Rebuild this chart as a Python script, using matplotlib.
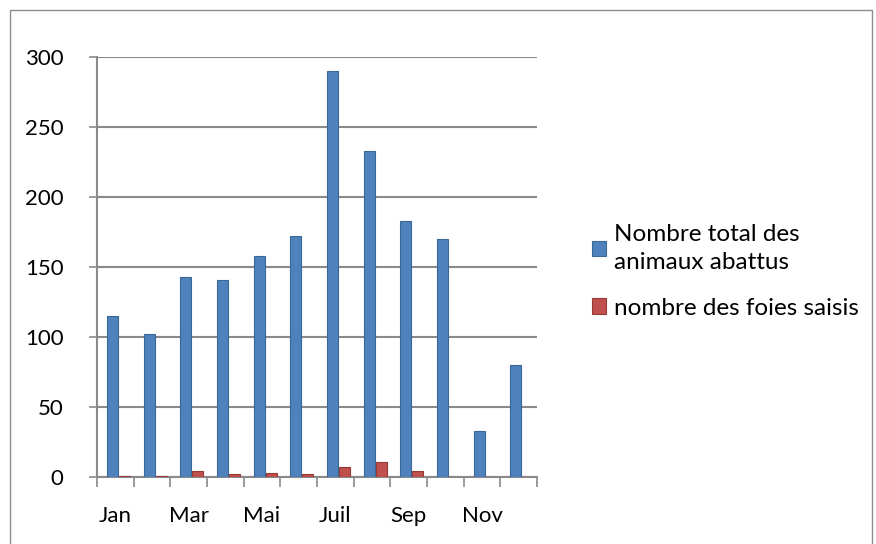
import matplotlib
matplotlib.use("Agg")
import matplotlib.pyplot as plt
import numpy as np
from matplotlib.patches import Rectangle

months = ["Jan", "Fev", "Mar", "Avr", "Mai", "Juin", "Juil", "Aou", "Sep", "Oct", "Nov", "Dec"]
shown_labels = ["Jan", "", "Mar", "", "Mai", "", "Juil", "", "Sep", "", "Nov", ""]
total_abattus = [115, 102, 143, 141, 158, 172, 290, 233, 183, 170, 33, 80]
foies_saisis = [1, 1, 4, 2, 3, 2, 7, 11, 4, 0.3, 0.3, 0.3]
series_names = ["Nombre total des\nanimaux abattus", "nombre des foies saisis"]
yticks = [0, 50, 100, 150, 200, 250, 300]

plt.rcParams['font.family'] = ['Lato', 'DejaVu Sans']

fig = plt.figure(figsize=(8.76, 5.44), dpi=100)
fig.patches.append(Rectangle((10/876, -0.01), 862/876, 1 - 10/544 + 0.01,
                             transform=fig.transFigure, fill=False,
                             edgecolor="#8c8c8c", linewidth=1.0))

ax = fig.add_axes([97/876, 1 - 477/544, 440/876, 420/544])
x = np.arange(len(months))
blue = "#4F81BD"
red = "#C0504D"
b1 = ax.bar(x - 0.08, total_abattus, width=0.30, color=blue, edgecolor="#3B6797",
            linewidth=0.8, label=series_names[0], zorder=3)
b2 = ax.bar(x + 0.25, foies_saisis, width=0.30, color=red, edgecolor="#963A38",
            linewidth=0.8, label=series_names[1], zorder=3)

ax.set_xlim(-0.5, len(months) - 0.5)
ax.set_ylim(0, 300)
ax.set_yticks(yticks)
ax.set_yticklabels([str(v) for v in yticks], fontsize=16)
ax.yaxis.grid(True, color="#8a8a8a", linewidth=1.5, zorder=0)
ax.set_axisbelow(True)

ax.set_xticks(x)
ax.set_xticklabels(shown_labels, fontsize=16)
ax.tick_params(axis='x', length=0, pad=21)
ax.set_xticks(np.arange(len(months) + 1) - 0.5, minor=True)
ax.tick_params(axis='x', which='minor', length=7, color="#8a8a8a", width=1.2)
ax.tick_params(axis='y', length=6, color="#8a8a8a", width=1.2, pad=18)

for s in ["top", "right"]:
    ax.spines[s].set_visible(False)
for s in ["left", "bottom"]:
    ax.spines[s].set_color("#8a8a8a")
    ax.spines[s].set_linewidth(1.5)

leg = ax.legend(handles=[b1, b2], loc="center left", bbox_to_anchor=(1.075, 0.49),
                frameon=False, fontsize=17.5, handlelength=0.6, handleheight=0.6,
                handletextpad=0.3, labelspacing=1.0)
for t in leg.get_texts():
    t.set_linespacing(1.45)

fig.savefig("out.png", dpi=100)
